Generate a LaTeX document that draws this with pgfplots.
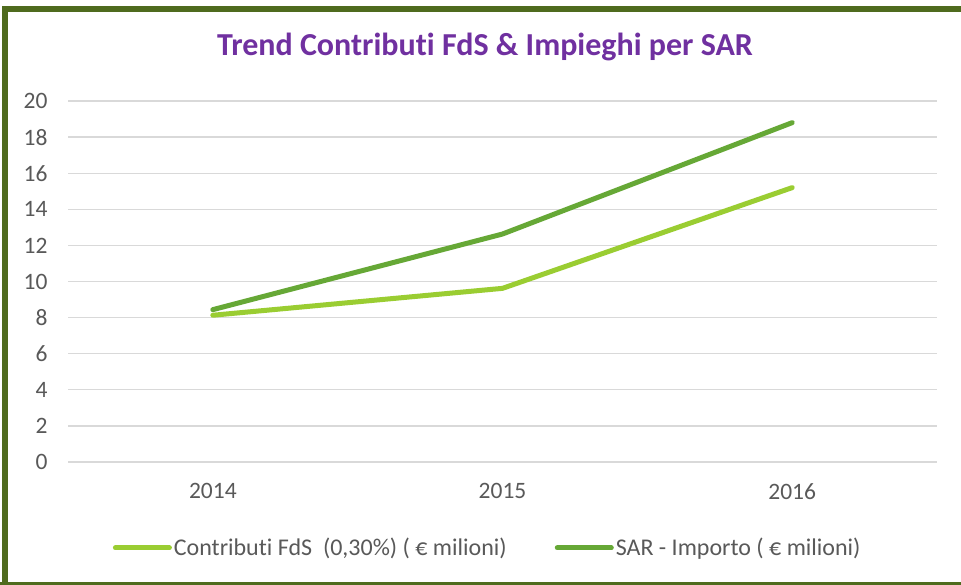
\documentclass[border=0pt]{standalone}
\usepackage{fontspec}
\setmainfont{Carlito}[Ligatures={NoCommon}]
\usepackage{pgfplots}
\pgfplotsset{compat=1.18}
\definecolor{framegreen}{HTML}{4F6B1E}
\definecolor{lightg}{HTML}{9ACD32}
\definecolor{darkg}{HTML}{66A836}
\definecolor{gridgray}{HTML}{D9D9D9}
\definecolor{tickgray}{HTML}{595959}
\definecolor{titlepurple}{HTML}{7030A0}
\begin{document}
\begin{tikzpicture}[x=1pt,y=1pt]
\path[use as bounding box] (0,0) rectangle (961,585);
\clip (0,0) rectangle (961,585);
\fill[white] (0,0) rectangle (961,585);
\draw[framegreen, line width=6pt] (5,-10) -- (5,576) -- (961,576);
\draw[framegreen, line width=6pt] (0,0) -- (961,0);
\node[anchor=base, text=titlepurple, font=\bfseries\fontsize{32}{38}\selectfont] at (485,529) {Trend Contributi FdS \& Impieghi per SAR};
\begin{axis}[
  at={(68pt,123pt)}, anchor=south west,
  scale only axis, width=869pt, height=361pt,
  xmin=-0.5, xmax=2.5, ymin=0, ymax=20,
  xtick={0,1,2}, xticklabels={2014,2015,2016},
  ytick={0,2,...,20},
  ymajorgrids, xmajorgrids=false,
  grid style={draw=gridgray, line width=1.3pt},
  axis line style={draw=none},
  major tick length=0pt,
  ticklabel style={font=\fontsize{23.5}{26}\selectfont, text=tickgray},
  /pgf/number format/assume math mode=true,
  yticklabel style={xshift=-17pt},
  xticklabel style={yshift=-18pt},
  clip=false,
  legend columns=2,
  legend style={at={(0.483,-0.238)}, anchor=center, draw=none, fill=none,
    font=\fontsize{24}{27}\selectfont, text=tickgray,
    /tikz/every even column/.append style={column sep=46pt},
    inner sep=0pt},
  legend cell align=left,
  legend image code/.code={\draw[#1, line width=5pt, line cap=round] (0pt,0pt) -- (54pt,0pt);},
]
\addplot[lightg, line width=5pt, line cap=round, line join=round] coordinates {(0,8.13) (1,9.62) (2,15.2)};
\addlegendentry{Contributi FdS\ \ (0,30\%) ( € milioni)}
\addplot[darkg, line width=5pt, line cap=round, line join=round] coordinates {(0,8.44) (1,12.63) (2,18.8)};
\addlegendentry{SAR - Importo ( € milioni)}
\end{axis}
\end{tikzpicture}
\end{document}
